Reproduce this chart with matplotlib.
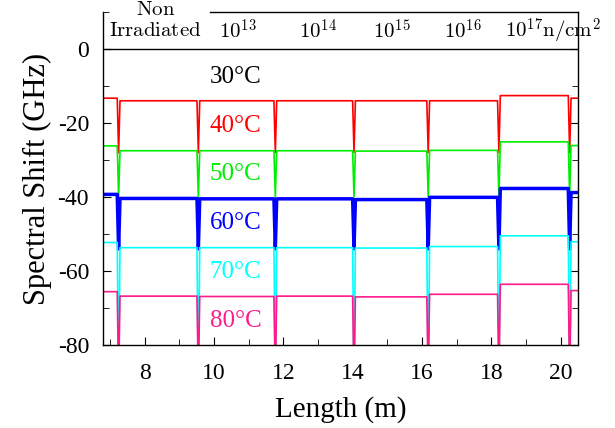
import numpy as np
import matplotlib
matplotlib.use("Agg")
import matplotlib.pyplot as plt

plt.rcParams['font.family'] = ['Liberation Serif', 'DejaVu Serif']
plt.rcParams['mathtext.fontset'] = 'cm'
plt.rcParams['axes.unicode_minus'] = False

# segment boundaries along the fibre (m)
boundaries = [6.8, 7.25, 9.55, 11.77, 14.04, 16.18, 18.22, 20.26, 20.5]

# spectral shift level of each segment (GHz)
temps = ['30°C', '40°C', '50°C', '60°C', '70°C', '80°C']
level_30 = [0, 0, 0, 0, 0, 0, 0, 0]
level_40 = [-13.3, -14.0, -14.0, -14.0, -14.0, -14.0, -12.6, -13.3]
level_50 = [-26.2, -27.5, -27.5, -27.5, -27.6, -27.4, -25.1, -26.1]
level_60 = [-39.3, -40.4, -40.5, -40.5, -40.7, -40.1, -37.7, -38.8]
level_70 = [-52.3, -53.7, -53.7, -53.7, -53.8, -53.4, -50.5, -52.1]
level_80 = [-65.6, -66.8, -66.9, -66.8, -67.0, -66.3, -63.6, -65.3]
# how deep each curve drops at the splices (None = no drop)
dip_depth = [None, -28, -40, -54, -90, -90]

colors = ['black', '#ff0000', '#00ee00', '#0000ff', '#00ffff', '#ff1a8c']
widths = [1.0, 1.2, 1.2, 2.5, 1.2, 1.2]

fluence = [r'$10^{13}$', r'$10^{14}$', r'$10^{15}$', r'$10^{16}$',
           r'$10^{17}\mathrm{n/cm}^2$']
fluence_x = [10.7, 13.0, 15.14, 17.18, 19.77]


def build_curve(levels, dip, gap=0.04):
    """step curve with a narrow drop at every splice"""
    xs, ys = [], []
    n = len(levels)
    for i, lv in enumerate(levels):
        x0, x1 = boundaries[i], boundaries[i + 1]
        if i > 0 and dip is not None:
            xs.append(x0)
            ys.append(dip)
        xs.append(x0 + gap if (i > 0 and dip is not None) else x0)
        xs.append(x1 - gap if (i < n - 1 and dip is not None) else x1)
        ys += [lv, lv]
    return xs, ys


fig = plt.figure(figsize=(6.15, 4.28), dpi=100)
ax = fig.add_axes([0.1675, 0.194, 0.7723, 0.778])

all_levels = [level_30, level_40, level_50, level_60, level_70, level_80]
for lv, dip, c, w in zip(all_levels, dip_depth, colors, widths):
    xs, ys = build_curve(lv, dip)
    ax.plot(xs, ys, color=c, lw=w)

label_y = [-7.5, -20.7, -33.9, -47.1, -60.3, -73.5]
for t, y, c in zip(temps, label_y, colors):
    ax.text(10.62, y, t, color=c, fontsize=18, ha='center', va='center')

# header band
ax.text(8.32, 10.3, r'$\mathrm{Non}$', fontsize=15, ha='center', va='center',
        clip_on=False)
ax.text(8.32, 4.7, r'$\mathrm{Irradiated}$', fontsize=15, ha='center',
        va='center', clip_on=False)
for x, s in zip(fluence_x, fluence):
    ax.text(x, 4.7, s, fontsize=15, ha='center', va='center', clip_on=False)

ax.set_xlim(6.8, 20.5)
ax.set_ylim(-80, 10)
ax.set_xticks([8, 10, 12, 14, 16, 18, 20])
ax.set_xticks(np.arange(7, 21, 1), minor=True)
ax.set_yticks([0, -20, -40, -60, -80])
ax.set_yticks([10, -10, -30, -50, -70], minor=True)

ax.spines['top'].set_visible(False)
ax.plot([9.9, 20.5], [10, 10], color='black', lw=1, clip_on=False)
for s in ['left', 'right', 'bottom']:
    ax.spines[s].set_linewidth(1.0)

ax.tick_params(which='both', direction='in', left=True, right=True,
               bottom=True, top=False, labelsize=17)
ax.tick_params(axis='x', which='both', pad=13)
ax.tick_params(axis='y', which='both', pad=10)
ax.tick_params(which='major', length=6)
ax.tick_params(which='minor', length=4)

ax.set_xlabel('Length (m)', fontsize=21, labelpad=9)
ax.set_ylabel('Spectral Shift (GHz)', fontsize=22, labelpad=4)

fig.savefig('out.png', dpi=100)
